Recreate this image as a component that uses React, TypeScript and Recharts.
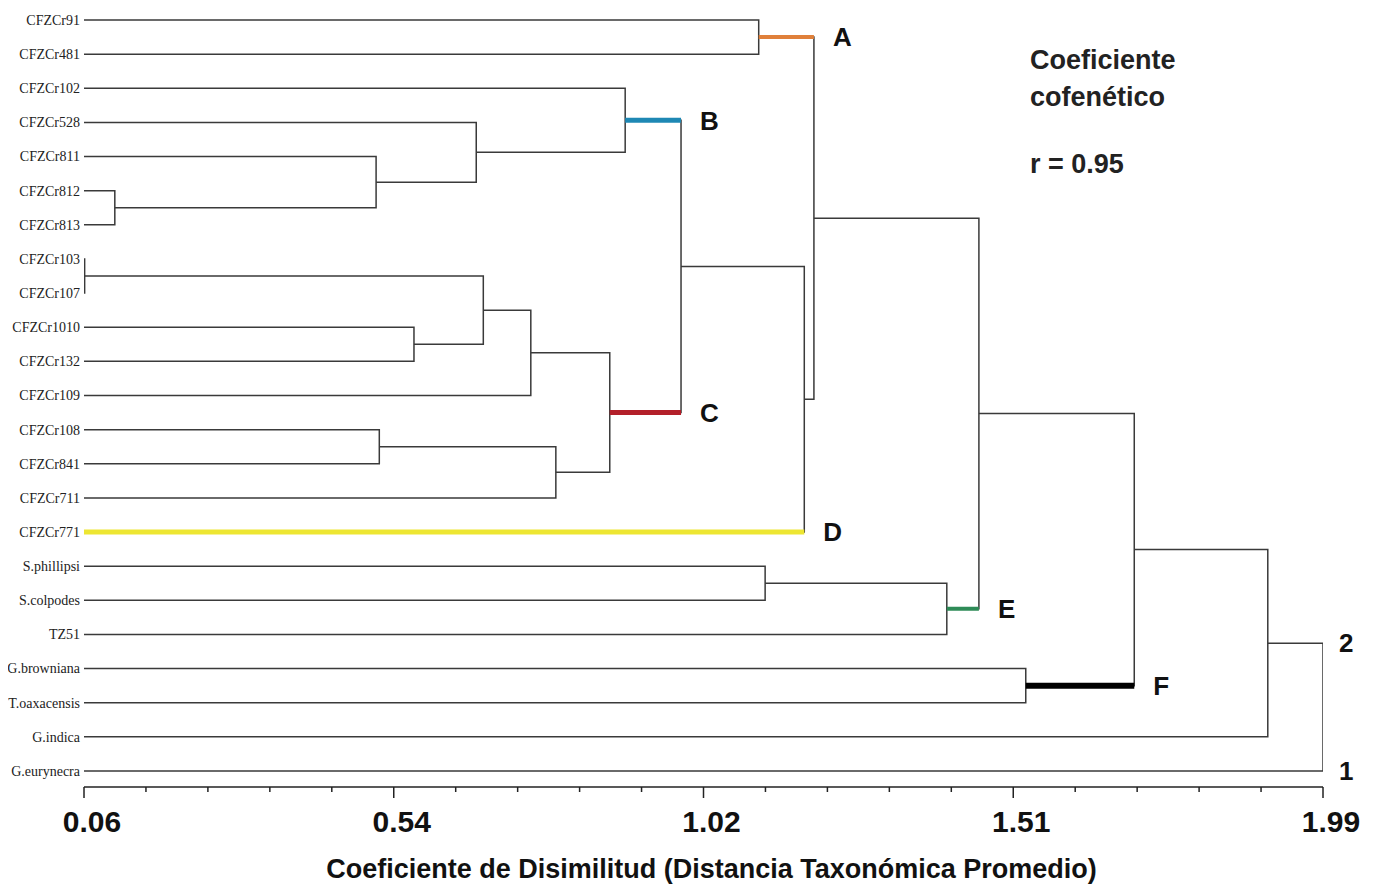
import React from 'react'
import { LineChart, Line, XAxis, YAxis, ReferenceDot } from 'recharts'

const leaves = [
  'CFZCr91', 'CFZCr481', 'CFZCr102', 'CFZCr528', 'CFZCr811', 'CFZCr812', 'CFZCr813',
  'CFZCr103', 'CFZCr107', 'CFZCr1010', 'CFZCr132', 'CFZCr109', 'CFZCr108', 'CFZCr841',
  'CFZCr711', 'CFZCr771', 'S.phillipsi', 'S.colpodes', 'TZ51', 'G.browniana',
  'T.oaxacensis', 'G.indica', 'G.eurynecra',
]

// [left, right, distance] — leaves are 0..22, merge k becomes node 23 + k
const merges: [number, number, number][] = [
  [5, 6, 0.108],   // 23
  [4, 23, 0.515],  // 24
  [3, 24, 0.671],  // 25
  [2, 25, 0.903],  // 26
  [0, 1, 1.111],   // 27
  [7, 8, 0.061],   // 28
  [9, 10, 0.574],  // 29
  [28, 29, 0.682], // 30
  [30, 11, 0.756], // 31
  [12, 13, 0.52],  // 32
  [32, 14, 0.795], // 33
  [31, 33, 0.879], // 34
  [26, 34, 0.99],  // 35
  [35, 15, 1.182], // 36
  [27, 36, 1.197], // 37
  [16, 17, 1.121], // 38
  [38, 18, 1.404], // 39
  [37, 39, 1.454], // 40
  [19, 20, 1.527], // 41
  [40, 41, 1.696], // 42
  [42, 21, 1.904], // 43
  [43, 22, 1.99],  // 44
]

const majorTicks = [0.06, 0.5425, 1.025, 1.5075, 1.99]
const majorLabels = ['0.06', '0.54', '1.02', '1.51', '1.99']
const minorTicks = [
  0.1565, 0.253, 0.3495, 0.446, 0.639, 0.7355, 0.832, 0.9285,
  1.1215, 1.218, 1.3145, 1.411, 1.604, 1.7005, 1.797, 1.8935,
]

const groups = [
  { node: 27, label: 'A', color: '#E0803A', width: 4 },
  { node: 26, label: 'B', color: '#1E88B4', width: 5 },
  { node: 34, label: 'C', color: '#B3202A', width: 5 },
  { node: 15, label: 'D', color: '#EDE632', width: 5 },
  { node: 39, label: 'E', color: '#2E8B57', width: 4 },
  { node: 41, label: 'F', color: '#000000', width: 6 },
]
const rootGroups = [
  { node: 43, label: '2' },
  { node: 22, label: '1' },
]

const nodeY: number[] = leaves.map((_, i) => i)
const nodeH: number[] = leaves.map(() => 0.06)
const parentOf: Record<number, number> = {}
merges.forEach(([a, b, h], k) => {
  const id = leaves.length + k
  nodeY[id] = (nodeY[a] + nodeY[b]) / 2
  nodeH[id] = h
  parentOf[a] = id
  parentOf[b] = id
})

const links = merges.map(([a, b, h]) => [
  { x: nodeH[a], y: nodeY[a] },
  { x: h, y: nodeY[a] },
  { x: h, y: nodeY[b] },
  { x: nodeH[b], y: nodeY[b] },
])

const sans = '"Liberation Sans", Arial, sans-serif'

const LeafTick = (props: any) => (
  <text x={props.x} y={props.y} dy="0.35em" textAnchor="end" fontFamily='"Liberation Serif", serif' fontSize={14} fill="#222">
    {leaves[props.payload.value]}
  </text>
)

const DistTick = (props: any) => {
  const v = props.payload.value
  const i = majorTicks.indexOf(v)
  const major = i >= 0
  return (
    <g>
      <line x1={props.x} x2={props.x} y1={props.y} y2={props.y + (major ? 11 : 5)} stroke="#222" strokeWidth={1.5} />
      {major && (
        <text x={props.x + 8} y={props.y + 45} textAnchor="middle" fontFamily={sans} fontWeight="bold" fontSize={30} fill="#111">
          {majorLabels[i]}
        </text>
      )}
    </g>
  )
}

const letterLabel = (value: string, offset: number) => ({
  value, position: 'right' as const, offset,
  fontFamily: sans, fontWeight: 'bold', fontSize: 26, fill: '#111',
})

export default function App() {
  return (
    <div style={{ position: 'relative', width: 1364, height: 880 }}>
      <LineChart width={1364} height={880} margin={{ top: 2, right: 49, left: 0, bottom: 0 }}>
        <XAxis
          type="number" dataKey="x" domain={[0.06, 1.99]} allowDataOverflow
          ticks={[...majorTicks, ...minorTicks].sort((a, b) => a - b)}
          tick={<DistTick />} tickLine={false} tickSize={0} tickMargin={0}
          axisLine={{ stroke: '#222', strokeWidth: 1.5 }} height={101}
          label={{
            value: 'Coeficiente de Disimilitud (Distancia Taxonómica Promedio)',
            position: 'insideBottom', offset: 10, dx: 8,
            style: { fontFamily: sans, fontWeight: 'bold', fontSize: 27, fill: '#111' },
          }}
        />
        <YAxis
          type="number" dataKey="y" reversed domain={[-0.293, 22.469]} allowDataOverflow
          ticks={leaves.map((_, i) => i)} interval={0} width={76}
          tick={<LeafTick />} tickLine={false} axisLine={false} tickSize={0} tickMargin={4}
        />
        {links.map((d, i) => (
          <Line key={'l' + i} data={d} dataKey="y" type="linear" stroke="#3a3a3a" strokeWidth={1.5}
            dot={false} activeDot={false} isAnimationActive={false} />
        ))}
        {groups.map((g) => (
          <Line key={g.label}
            data={[{ x: nodeH[g.node], y: nodeY[g.node] }, { x: nodeH[parentOf[g.node]], y: nodeY[g.node] }]}
            dataKey="y" type="linear" stroke={g.color} strokeWidth={g.width}
            dot={false} activeDot={false} isAnimationActive={false} />
        ))}
        {groups.map((g) => (
          <ReferenceDot key={'d' + g.label} x={nodeH[parentOf[g.node]]} y={nodeY[g.node]} r={1}
            fill="none" stroke="none" label={letterLabel(g.label, 18)} />
        ))}
        {rootGroups.map((g) => (
          <ReferenceDot key={'r' + g.label} x={nodeH[parentOf[g.node]]} y={nodeY[g.node]} r={1}
            fill="none" stroke="none" label={letterLabel(g.label, 15)} />
        ))}
      </LineChart>
      <div style={{ position: 'absolute', left: 1022, top: 34, fontFamily: sans, fontWeight: 'bold', fontSize: 27, lineHeight: '37px', color: '#222' }}>
        Coeficiente<br />cofenético
      </div>
      <div style={{ position: 'absolute', left: 1022, top: 141, fontFamily: sans, fontWeight: 'bold', fontSize: 27, color: '#222' }}>
        r = 0.95
      </div>
    </div>
  )
}
